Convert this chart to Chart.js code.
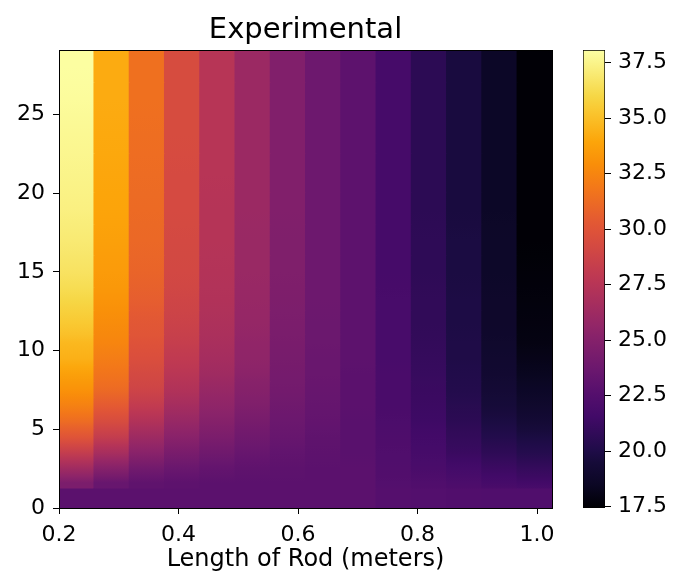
<!DOCTYPE html>
<html>
<head>
<meta charset="utf-8">
<script src="https://cdn.jsdelivr.net/npm/chart.js@4.4.1/dist/chart.umd.min.js"></script>
<style>
  html, body { margin: 0; padding: 0; background: #fff; }
  #wrap { position: relative; width: 686px; height: 571px; }
  #heat { position: absolute; left: 0; top: 0; }
  #cbar { position: absolute; left: 560px; top: 0; }
</style>
</head>
<body>
<div id="wrap">
  <canvas id="heat" width="686" height="571"></canvas>
  <canvas id="cbar" width="126" height="571"></canvas>
</div>
<script>
// rod positions (column centres, meters) and time rows (edges)
const rodCenters = [0.229, 0.288, 0.347, 0.406, 0.465, 0.524, 0.583, 0.642, 0.701, 0.760, 0.819, 0.878, 0.937, 0.996];
const rowEdges = [0, 1.2, 2, 3, 4, 5, 6, 7, 8, 9, 10, 11, 12.5, 14, 16, 18, 20, 22.5, 25, 27, 29.1];
const xTicks = [0.2, 0.4, 0.6, 0.8, 1.0];
const yTicks = [0, 5, 10, 15, 20, 25];
const cbarTicks = [17.5, 20, 22.5, 25, 27.5, 30, 32.5, 35, 37.5];
const cbarMin = 17.44, cbarMax = 38.07;

// temperature per column, bottom row -> top row
const tempByColumn = [
  [22.9, 24.5, 26.3, 28.2, 30.0, 31.3, 32.3, 33.1, 33.7, 34.4, 34.7, 35.4, 36.0, 36.6, 37.0, 37.3, 37.5, 37.7, 37.9, 38.0],
  [22.9, 23.5, 25.0, 26.7, 28.2, 29.4, 30.4, 31.2, 31.7, 32.1, 32.5, 32.8, 33.2, 33.5, 33.7, 33.9, 34.0, 34.1, 34.2, 34.2],
  [22.9, 23.1, 24.0, 25.2, 26.2, 27.2, 28.1, 28.8, 29.2, 29.6, 29.9, 30.2, 30.6, 30.9, 31.1, 31.2, 31.3, 31.4, 31.5, 31.5],
  [22.9, 23.0, 23.6, 24.4, 25.2, 25.9, 26.6, 27.2, 27.6, 28.0, 28.3, 28.6, 28.9, 29.1, 29.2, 29.3, 29.3, 29.4, 29.4, 29.4],
  [22.9, 22.9, 23.3, 23.9, 24.5, 25.0, 25.5, 25.9, 26.3, 26.6, 26.8, 27.0, 27.2, 27.3, 27.4, 27.4, 27.5, 27.5, 27.5, 27.5],
  [22.9, 22.9, 23.1, 23.5, 23.9, 24.3, 24.7, 25.0, 25.3, 25.5, 25.6, 25.8, 25.9, 26.0, 26.0, 26.1, 26.1, 26.1, 26.1, 26.1],
  [22.9, 22.9, 23.0, 23.2, 23.5, 23.7, 23.9, 24.1, 24.2, 24.3, 24.4, 24.5, 24.6, 24.7, 24.7, 24.8, 24.8, 24.8, 24.8, 24.8],
  [22.9, 22.9, 22.9, 23.0, 23.1, 23.3, 23.4, 23.5, 23.6, 23.6, 23.7, 23.7, 23.8, 23.8, 23.8, 23.8, 23.8, 23.8, 23.8, 23.8],
  [22.9, 22.9, 22.9, 22.8, 22.8, 22.8, 22.9, 22.9, 22.9, 23.0, 23.0, 23.0, 23.0, 23.0, 23.0, 23.0, 23.0, 23.0, 23.0, 23.0],
  [22.6, 22.5, 22.4, 22.3, 22.2, 22.1, 22.0, 22.0, 22.0, 21.9, 21.9, 21.9, 21.9, 21.8, 21.8, 21.8, 21.8, 21.8, 21.8, 21.8],
  [22.5, 22.3, 22.0, 21.8, 21.6, 21.4, 21.3, 21.2, 21.1, 21.0, 20.9, 20.8, 20.8, 20.7, 20.7, 20.6, 20.6, 20.6, 20.6, 20.6],
  [22.4, 22.1, 21.7, 21.2, 20.9, 20.6, 20.4, 20.2, 20.1, 20.0, 20.0, 19.9, 19.9, 19.8, 19.8, 19.7, 19.7, 19.7, 19.7, 19.7],
  [22.3, 21.8, 21.3, 20.7, 20.2, 19.8, 19.5, 19.3, 19.1, 19.0, 18.9, 18.8, 18.8, 18.7, 18.7, 18.6, 18.6, 18.6, 18.6, 18.6],
  [22.3, 21.6, 21.0, 20.3, 19.8, 19.3, 18.9, 18.6, 18.3, 18.1, 17.9, 17.8, 17.7, 17.6, 17.5, 17.5, 17.5, 17.5, 17.5, 17.5],
];

// inferno colormap stops
const infernoStops = [
  [0.0, '#000004'], [0.05, '#0b0724'], [0.1, '#160b39'], [0.125, '#1f0c48'], [0.2, '#420a68'],
  [0.25, '#550f6d'], [0.3, '#6a176e'], [0.375, '#88226a'], [0.4, '#932667'], [0.5, '#bc3754'],
  [0.6, '#dd513a'], [0.625, '#e35933'], [0.7, '#f37819'], [0.75, '#f98e09'], [0.8, '#fca50a'],
  [0.875, '#f9cb35'], [0.9, '#f6d746'], [1.0, '#fcffa4'],
];

const hex = (h) => [1, 3, 5].map(i => parseInt(h.slice(i, i + 2), 16));
function inferno(v) {
  const t = Math.max(0, Math.min(1, (v - cbarMin) / (cbarMax - cbarMin)));
  for (let i = 1; i < infernoStops.length; i++) {
    const [t1, c1] = infernoStops[i];
    if (t <= t1) {
      const [t0, c0] = infernoStops[i - 1];
      const f = (t - t0) / (t1 - t0);
      const a = hex(c0), b = hex(c1);
      const c = a.map((x, k) => Math.round(x + (b[k] - x) * f));
      return `rgb(${c[0]},${c[1]},${c[2]})`;
    }
  }
  return infernoStops[infernoStops.length - 1][1];
}

Chart.defaults.font.family = 'DejaVu Sans';
Chart.defaults.color = '#000';

const tickFont = { size: 22, lineHeight: 1 };
const fixed = (px) => (s) => { if (s.isHorizontal()) s.height = px; else s.width = px; };
const setTicks = (vals) => (s) => { s.ticks = vals.map(v => ({ value: v })); };

// shade each cell smoothly towards its neighbours (bottom band stays flat)
function cellFill(ctx) {
  const r = ctx.datasetIndex, c = ctx.dataIndex, col = tempByColumn[c];
  const y = ctx.chart.scales.y;
  if (!col || !y || !ctx.chart.chartArea) return '#000';
  const last = col.length - 1;
  // the jump at the first row edge is sharp only on the hot side
  const lo = r === 0 ? col[0] : r === 1 ? (c < 4 ? col[1] : (col[0] + col[1]) / 2) : (col[r - 1] + col[r]) / 2;
  const hi = r === 0 || r === last ? col[r] : (col[r] + col[r + 1]) / 2;
  const g = ctx.chart.ctx.createLinearGradient(0, y.getPixelForValue(rowEdges[r]), 0, y.getPixelForValue(rowEdges[r + 1]));
  g.addColorStop(0, inferno(lo));
  g.addColorStop(0.5, inferno(col[r]));
  g.addColorStop(1, inferno(hi));
  return g;
}

const datasets = rowEdges.slice(0, -1).map((lo, r) => ({
  data: rodCenters.map(x => ({ x, y: [lo, rowEdges[r + 1]] })),
  backgroundColor: cellFill,
  borderWidth: 0,
  inflateAmount: 0.5,
  barPercentage: 1,
  categoryPercentage: 1,
}));

new Chart(document.getElementById('heat'), {
  type: 'bar',
  data: { datasets },
  options: {
    responsive: false,
    animation: false,
    layout: { padding: { left: 0, right: 134, top: 0, bottom: 0 } },
    plugins: {
      legend: { display: false },
      tooltip: { enabled: false },
      title: {
        display: true, fullSize: false, text: 'Experimental', color: '#000',
        font: { size: 29, weight: 'normal', lineHeight: 1.2 }, padding: { top: 13, bottom: 2.2 },
      },
    },
    scales: {
      x: {
        type: 'linear', min: 0.2, max: 1.025, stacked: true, offset: false,
        afterBuildTicks: setTicks(xTicks), afterFit: fixed(63),
        ticks: { font: tickFont, padding: 10, maxRotation: 0, callback: v => v.toFixed(1) },
        grid: { offset: false, drawOnChartArea: false, tickLength: 6, color: '#000' },
        border: { color: '#000', width: 1, z: 1 },
        title: { display: true, text: 'Length of Rod (meters)', font: { size: 24, lineHeight: 1 }, padding: { top: 0, bottom: -1 } },
      },
      y: {
        type: 'linear', min: 0, max: 29.1,
        afterBuildTicks: setTicks(yTicks), afterFit: fixed(59),
        ticks: { font: tickFont, padding: 8 },
        grid: { drawOnChartArea: false, tickLength: 6, color: '#000' },
        border: { color: '#000', width: 1, z: 1 },
      },
      xTop: {
        type: 'linear', position: 'top', min: 0, max: 1, afterFit: fixed(0),
        ticks: { display: false }, grid: { drawOnChartArea: false, drawTicks: false },
        border: { color: '#000', width: 1, z: 1 },
      },
      yRight: {
        type: 'linear', position: 'right', min: 0, max: 1, afterFit: fixed(0),
        ticks: { display: false }, grid: { drawOnChartArea: false, drawTicks: false },
        border: { color: '#000', width: 1, z: 1 },
      },
    },
  },
});

// colorbar
new Chart(document.getElementById('cbar'), {
  type: 'bar',
  data: {
    labels: [''],
    datasets: [{
      data: [[cbarMin, cbarMax]],
      backgroundColor: (ctx) => {
        const area = ctx.chart.chartArea;
        if (!area) return '#000';
        const g = ctx.chart.ctx.createLinearGradient(0, area.bottom, 0, area.top);
        infernoStops.forEach(([t, c]) => g.addColorStop(t, c));
        return g;
      },
      borderColor: '#000',
      borderWidth: 1,
      borderSkipped: false,
      barPercentage: 1,
      categoryPercentage: 1,
    }],
  },
  options: {
    responsive: false,
    animation: false,
    layout: { padding: { left: 23, right: 0, top: 50, bottom: 63 } },
    plugins: { legend: { display: false }, tooltip: { enabled: false } },
    scales: {
      x: { display: false },
      y: {
        position: 'right', min: cbarMin, max: cbarMax,
        afterBuildTicks: setTicks(cbarTicks), afterFit: fixed(81),
        ticks: { font: tickFont, padding: 7, callback: v => Number(v).toFixed(1) },
        grid: { drawOnChartArea: false, tickLength: 6, color: '#000' },
        border: { display: false },
      },
    },
  },
});
</script>
</body>
</html>
